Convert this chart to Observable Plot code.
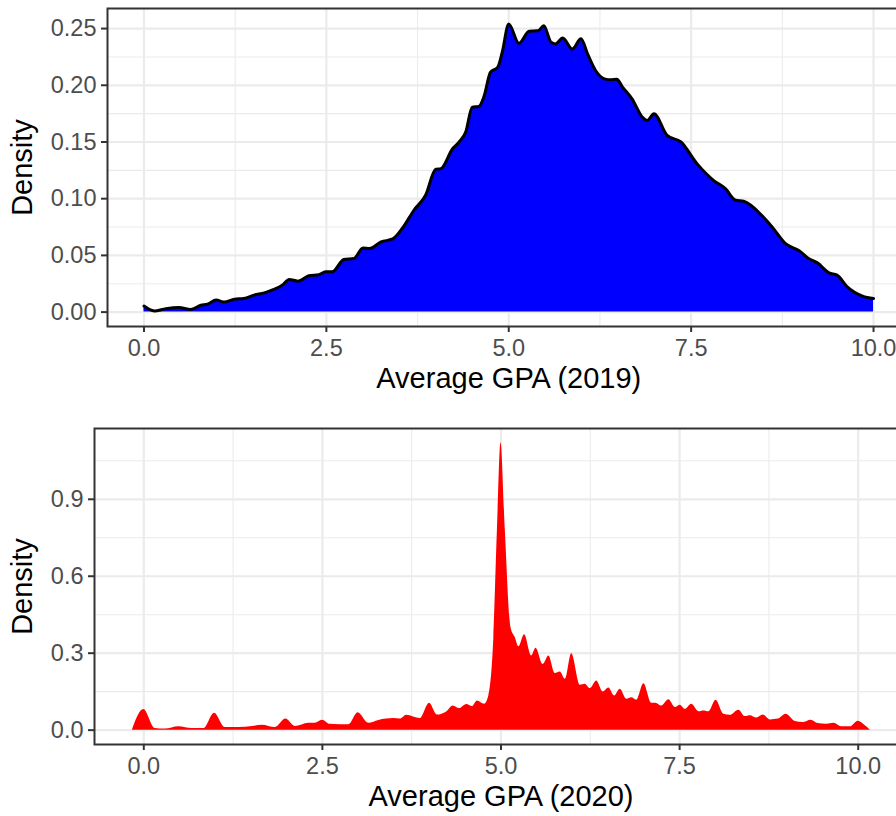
<!DOCTYPE html>
<html>
<head>
<meta charset="utf-8">
<script src="https://cdn.jsdelivr.net/npm/d3@7"></script>
<script src="https://cdn.jsdelivr.net/npm/@observablehq/plot@0.6"></script>
<style>
  html, body { margin: 0; padding: 0; background: #fff; }
  #page { width: 896px; height: 816px; overflow: hidden; position: relative; }
  #page svg { display: block; max-width: none !important; }
</style>
</head>
<body>
<div id="page"></div>
<script>
// Kernel density of average GPA, 2019 cohort
const gpa2019 = [0.00, 0.14, 0.30, 0.48, 0.64, 0.78, 0.87, 0.99, 1.10, 1.24, 1.37, 1.51, 1.65, 1.78, 1.90, 1.99, 2.11, 2.26, 2.40, 2.49, 2.58, 2.74, 2.88, 3.00, 3.09, 3.25, 3.41, 3.54, 3.70, 3.86, 4.00, 4.07, 4.23, 4.32, 4.41, 4.50, 4.59, 4.66, 4.75, 4.85, 4.91, 5.00, 5.14, 5.28, 5.40, 5.48, 5.58, 5.64, 5.74, 5.87, 5.99, 6.08, 6.19, 6.31, 6.40, 6.48, 6.56, 6.69, 6.83, 6.90, 6.99, 7.17, 7.36, 7.58, 7.81, 7.97, 8.11, 8.22, 8.48, 8.61, 8.79, 8.98, 9.11, 9.23, 9.39, 9.50, 9.64, 9.85, 10.00];
const density2019 = [0.0053, 0.0010, 0.0030, 0.0040, 0.0024, 0.0060, 0.0070, 0.0106, 0.0088, 0.0114, 0.0120, 0.0150, 0.0170, 0.0200, 0.0240, 0.0288, 0.0273, 0.0320, 0.0330, 0.0355, 0.0355, 0.0464, 0.0473, 0.0566, 0.0560, 0.0619, 0.0645, 0.0737, 0.0898, 0.1030, 0.1259, 0.1265, 0.1440, 0.1500, 0.1587, 0.1807, 0.1813, 0.1900, 0.2115, 0.2160, 0.2290, 0.2540, 0.2370, 0.2477, 0.2480, 0.2524, 0.2380, 0.2365, 0.2416, 0.2320, 0.2410, 0.2277, 0.2130, 0.2057, 0.2048, 0.2054, 0.1984, 0.1880, 0.1720, 0.1690, 0.1750, 0.1558, 0.1500, 0.1309, 0.1160, 0.1089, 0.0986, 0.0977, 0.0845, 0.0751, 0.0605, 0.0540, 0.0473, 0.0434, 0.0346, 0.0326, 0.0223, 0.0141, 0.0120];

// Kernel density of average GPA, 2020 cohort
const gpa2020 = [-0.16, 0.00, 0.16, 0.30, 0.49, 0.68, 0.84, 0.99, 1.14, 1.33, 1.52, 1.66, 1.84, 1.99, 2.12, 2.31, 2.40, 2.50, 2.61, 2.87, 3.00, 3.15, 3.29, 3.50, 3.59, 3.68, 3.87, 4.00, 4.11, 4.24, 4.33, 4.42, 4.52, 4.60, 4.67, 4.77, 4.83, 4.90, 4.95, 5.00, 5.06, 5.14, 5.20, 5.25, 5.33, 5.43, 5.49, 5.59, 5.67, 5.76, 5.83, 5.90, 5.99, 6.11, 6.18, 6.25, 6.34, 6.43, 6.51, 6.59, 6.67, 6.76, 6.83, 6.90, 7.00, 7.11, 7.17, 7.25, 7.35, 7.44, 7.51, 7.58, 7.67, 7.77, 7.84, 7.91, 8.01, 8.12, 8.21, 8.33, 8.42, 8.49, 8.58, 8.67, 8.77, 8.88, 8.99, 9.12, 9.23, 9.34, 9.44, 9.56, 9.66, 9.77, 9.89, 10.00, 10.10, 10.17];
const density2020 = [0, 0.080, 0.006, 0.004, 0.013, 0.006, 0.006, 0.066, 0.010, 0.010, 0.014, 0.019, 0.010, 0.043, 0.014, 0.027, 0.027, 0.039, 0.023, 0.021, 0.068, 0.027, 0.038, 0.045, 0.043, 0.058, 0.045, 0.105, 0.059, 0.071, 0.094, 0.084, 0.100, 0.092, 0.114, 0.101, 0.133, 0.360, 0.781, 1.120, 0.781, 0.399, 0.360, 0.325, 0.372, 0.289, 0.319, 0.256, 0.289, 0.221, 0.227, 0.198, 0.298, 0.175, 0.179, 0.162, 0.192, 0.149, 0.164, 0.133, 0.159, 0.120, 0.126, 0.117, 0.181, 0.105, 0.105, 0.094, 0.118, 0.088, 0.097, 0.081, 0.101, 0.072, 0.075, 0.072, 0.117, 0.062, 0.058, 0.078, 0.053, 0.056, 0.047, 0.059, 0.040, 0.043, 0.062, 0.034, 0.030, 0.039, 0.026, 0.023, 0.027, 0.013, 0.013, 0.035, 0.017, 0];

// Axis breaks
const xMajor = [0, 2.5, 5, 7.5, 10];
const xMinor = [1.25, 3.75, 6.25, 8.75];
const yMajor2019 = [0, 0.05, 0.10, 0.15, 0.20, 0.25];
const yMinor2019 = [0.025, 0.075, 0.125, 0.175, 0.225];
const yMajor2020 = [0, 0.3, 0.6, 0.9];
const yMinor2020 = [0.15, 0.45, 0.75, 1.05];

const FONT = "'Liberation Sans', Arial, Helvetica, sans-serif";
const GRID = "#EBEBEB";
const INK = "#333333";
const TICK_TEXT = "#4D4D4D";
const TICK_SIZE = 23.5;
const TITLE_SIZE = 29;

function densityPanel({xs, ys, fill, outline, yMajor, yMinor, yFormat, xDomain, yDomain, xTitle,
                       width, height, marginLeft, marginRight, marginTop, marginBottom, yTitleDx, xTitleDy}) {
  const data = xs.map((x, i) => ({gpa: x, density: ys[i]}));
  const marks = [
    Plot.ruleX(xMinor, {stroke: GRID, strokeWidth: 1.1}),
    Plot.ruleY(yMinor, {stroke: GRID, strokeWidth: 1.1}),
    Plot.ruleX(xMajor, {stroke: GRID, strokeWidth: 2.2}),
    Plot.ruleY(yMajor, {stroke: GRID, strokeWidth: 2.2}),
    Plot.areaY(data, {x: "gpa", y: "density", fill, curve: "monotone-x"})
  ];
  if (outline) {
    marks.push(Plot.lineY(data, {x: "gpa", y: "density", stroke: outline, strokeWidth: 3, curve: "monotone-x"}));
  }
  marks.push(
    Plot.frame({stroke: INK, strokeWidth: 2}),
    Plot.axisX(xMajor, {tickFormat: d3.format(".1f"), tickSize: 6, tickPadding: 7, fontSize: TICK_SIZE,
                        stroke: INK, fill: TICK_TEXT, strokeWidth: 2, label: null}),
    Plot.axisY(yMajor, {tickFormat: d3.format(yFormat), tickSize: 6, tickPadding: 5, fontSize: TICK_SIZE,
                        stroke: INK, fill: TICK_TEXT, strokeWidth: 2, label: null}),
    Plot.text([xTitle], {text: d => d, frameAnchor: "bottom", textAnchor: "middle", dy: xTitleDy,
                         fontSize: TITLE_SIZE, fill: "black"}),
    Plot.text(["Density"], {text: d => d, frameAnchor: "left", textAnchor: "middle", dx: yTitleDx,
                            rotate: -90, fontSize: TITLE_SIZE, fill: "black"})
  );
  return Plot.plot({
    width, height, marginLeft, marginRight, marginTop, marginBottom,
    style: {fontFamily: FONT, background: "white", overflow: "visible"},
    x: {domain: xDomain},
    y: {domain: yDomain},
    marks
  });
}

const page = document.getElementById("page");

page.appendChild(densityPanel({
  xs: gpa2019, ys: density2019, fill: "blue", outline: "black",
  yMajor: yMajor2019, yMinor: yMinor2019, yFormat: ".2f",
  xDomain: [-0.5, 10.5], yDomain: [-0.0127, 0.2677],
  xTitle: "Average GPA (2019)",
  width: 912, height: 410, marginLeft: 107, marginRight: 2.5, marginTop: 8, marginBottom: 84,
  yTitleDx: -85, xTitleDy: 61
}));

page.appendChild(densityPanel({
  xs: gpa2020, ys: density2020, fill: "red", outline: null,
  yMajor: yMajor2020, yMinor: yMinor2020, yFormat: ".1f",
  xDomain: [-0.69, 10.69], yDomain: [-0.056, 1.176],
  xTitle: "Average GPA (2020)",
  width: 910, height: 406, marginLeft: 94, marginRight: 3, marginTop: 18, marginBottom: 72,
  yTitleDx: -72, xTitleDy: 61
}));
</script>
</body>
</html>
